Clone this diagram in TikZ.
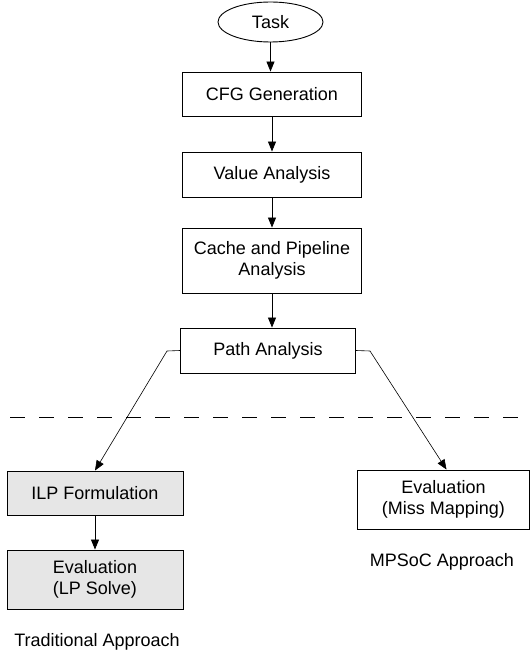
\documentclass[tikz,border=0pt]{standalone}
\usepackage{fontspec}
\setmainfont{Liberation Sans}
\usetikzlibrary{shapes.geometric,arrows.meta,calc}
\definecolor{boxgray}{HTML}{E6E6E6}
\begin{document}
\begin{tikzpicture}[x=1pt,y=-1pt,
  every node/.style={font=\fontsize{18}{21}\selectfont, inner sep=0pt},
  stepbox/.style={draw, line width=0.9pt, rectangle, align=center},
  graybox/.style={stepbox, fill=boxgray},
  arr/.style={line width=0.8pt, -{Triangle[width=8pt,length=10pt]}},
  conn/.style={line width=0.6pt, -{Triangle[width=8pt,length=10pt]}}]
\useasboundingbox (0,0) rectangle (530,655);
\node[draw, line width=0.9pt, ellipse, minimum width=105pt, minimum height=40pt] (task) at (270.5,22) {Task};
\node[stepbox, minimum width=179pt, minimum height=44pt] (cfg) at (272,94) {CFG Generation};
\node[stepbox, minimum width=179pt, minimum height=45pt] (val) at (272,174.5) {Value Analysis};
\node[stepbox, minimum width=179pt, minimum height=65pt] (cache) at (272,260.5) {Cache and Pipeline\\Analysis};
\node[stepbox, minimum width=175pt, minimum height=45pt] (path) at (268,350.5) {Path Analysis};
\node[graybox, minimum width=176pt, minimum height=44pt] (ilp) at (95,493) {ILP Formulation};
\node[graybox, minimum width=176pt, minimum height=59pt] (lp) at (95,579.5) {Evaluation\\(LP Solve)};
\node[stepbox, minimum width=172pt, minimum height=59pt] (miss) at (443.5,499.5) {Evaluation\\(Miss Mapping)};
\node (trad) at (97,642) {Traditional Approach};
\node (mpsoc) at (442,562) {MPSoC Approach};
\coordinate (dl) at (10,417);
\coordinate (dr) at (530,417);
\draw[line width=0.7pt, dash pattern=on 15pt off 14pt] (dl) -- (dr);
\draw[arr] (task) -- (task |- cfg.north);
\draw[arr] (cfg) -- (val);
\draw[arr] (val) -- (cache);
\draw[arr] (cache.south) -- (cache.south |- path.north);
\coordinate (lbend) at (167,351);
\coordinate (rbend) at (370,351);
\draw[conn] (path.west) -- (lbend) -- (ilp.north);
\draw[conn] (path.east) -- (rbend) -- ($(miss.north)+(3,0)$);
\draw[arr] (ilp) -- (lp);
\end{tikzpicture}
\end{document}
